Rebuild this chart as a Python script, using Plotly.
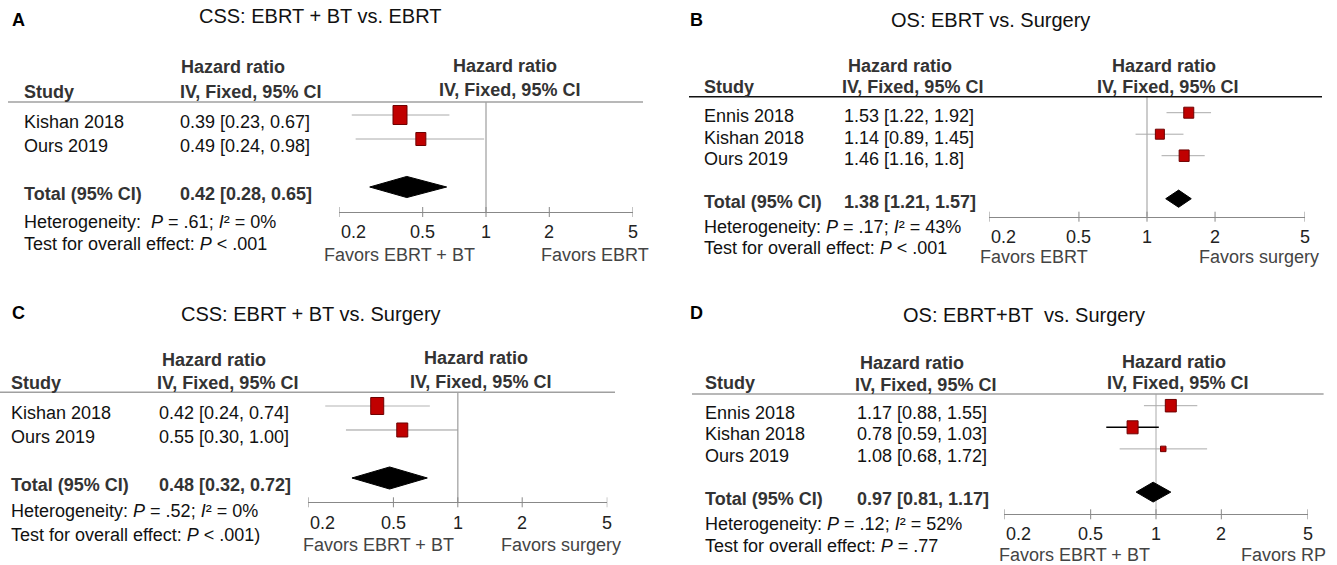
import math
import plotly.graph_objects as go

W, H = 1337, 565
FONT = "Liberation Sans, Arial, Helvetica, sans-serif"

# ---------------- data ----------------
tick_vals = [0.2, 0.5, 1, 2, 5]
tick_text = ["0.2", "0.5", "1", "2", "5"]

# Panel A: CSS: EBRT + BT vs. EBRT
a_studies = ["Kishan 2018", "Ours 2019"]
a_hr = [0.39, 0.49]
a_lo = [0.23, 0.24]
a_hi = [0.67, 0.98]
a_labels = ["0.39 [0.23, 0.67]", "0.49 [0.24, 0.98]"]
a_total = [0.42, 0.28, 0.65]
a_total_label = "0.42 [0.28, 0.65]"
a_het = "Heterogeneity:  <i>P</i> = .61; <i>I</i>² = 0%"
a_test = "Test for overall effect: <i>P</i> &lt; .001"
a_fav = ["Favors EBRT + BT", "Favors EBRT"]
a_title = "CSS: EBRT + BT vs. EBRT"

# Panel B: OS: EBRT vs. Surgery
b_studies = ["Ennis 2018", "Kishan 2018", "Ours 2019"]
b_hr = [1.53, 1.14, 1.46]
b_lo = [1.22, 0.89, 1.16]
b_hi = [1.92, 1.45, 1.80]
b_labels = ["1.53 [1.22, 1.92]", "1.14 [0.89, 1.45]", "1.46 [1.16, 1.8]"]
b_total = [1.38, 1.21, 1.57]
b_total_label = "1.38 [1.21, 1.57]"
b_het = "Heterogeneity: <i>P</i> = .17; <i>I</i>² = 43%"
b_test = "Test for overall effect: <i>P</i> &lt; .001"
b_fav = ["Favors EBRT", "Favors surgery"]
b_title = "OS: EBRT vs. Surgery"

# Panel C: CSS: EBRT + BT vs. Surgery
c_studies = ["Kishan 2018", "Ours 2019"]
c_hr = [0.42, 0.55]
c_lo = [0.24, 0.30]
c_hi = [0.74, 1.00]
c_labels = ["0.42 [0.24, 0.74]", "0.55 [0.30, 1.00]"]
c_total = [0.48, 0.32, 0.72]
c_total_label = "0.48 [0.32, 0.72]"
c_het = "Heterogeneity: <i>P</i> = .52; <i>I</i>² = 0%"
c_test = "Test for overall effect: <i>P</i> &lt; .001)"
c_fav = ["Favors EBRT + BT", "Favors surgery"]
c_title = "CSS: EBRT + BT vs. Surgery"

# Panel D: OS: EBRT+BT vs. Surgery
d_studies = ["Ennis 2018", "Kishan 2018", "Ours 2019"]
d_hr = [1.17, 0.78, 1.08]
d_lo = [0.88, 0.59, 0.68]
d_hi = [1.55, 1.03, 1.72]
d_labels = ["1.17 [0.88, 1.55]", "0.78 [0.59, 1.03]", "1.08 [0.68, 1.72]"]
d_total = [0.97, 0.81, 1.17]
d_total_label = "0.97 [0.81, 1.17]"
d_het = "Heterogeneity: <i>P</i> = .12; <i>I</i>² = 52%"
d_test = "Test for overall effect: <i>P</i> = .77"
d_fav = ["Favors EBRT + BT", "Favors RP"]
d_title = "OS: EBRT+BT  vs. Surgery"

# ---------------- layout / style per panel (pixels) ----------------
panels = [
    dict(letter="A", title=a_title, studies=a_studies, hr=a_hr, lo=a_lo, hi=a_hi, labels=a_labels,
         total=a_total, total_label=a_total_label, het=a_het, test=a_test, fav=a_fav,
         box_px=[(14, 19), (10, 13)], ci_colors=["#aaaaaa", "#aaaaaa"], ci_widths=[1, 1],
         letter_xy=(18, 20), title_xy=(320, 16),
         ax_x=(339, 633), header_y=102, axis_y=212, row0=115, step=24, dia_h=0.44,
         hline=(8, 643), hline_color="#a0a0a0", vline_color="#b0b0b0", vline_w=1.5,
         study_x=22, val_x=178, text_dy=7,
         hr_left=(233, 67.5), iv_left=(250, 92), study_hdr=(22, 92),
         hr_right=(505, 66), iv_right=(509.5, 90),
         het_y=222, test_y=244, fav_pos=[(399.5, 255), (595, 255)], tick_dy=20),
    dict(letter="B", title=b_title, studies=b_studies, hr=b_hr, lo=b_lo, hi=b_hi, labels=b_labels,
         total=b_total, total_label=b_total_label, het=b_het, test=b_test, fav=b_fav,
         box_px=[(10, 11), (9, 10), (10, 11.5)], ci_colors=["#aaaaaa"] * 3, ci_widths=[1, 1, 1],
         letter_xy=(697, 20), title_xy=(990, 20),
         ax_x=(989, 1305), header_y=96.7, axis_y=216.7, row0=112.7, step=21.5, dia_h=0.4,
         hline=(689, 1322), hline_color="#111111", vline_color="#999999", vline_w=1,
         study_x=702, val_x=842, text_dy=3.5,
         hr_left=(900, 66), iv_left=(912.6, 87), study_hdr=(702, 87),
         hr_right=(1163.5, 66), iv_right=(1167, 87),
         het_y=226.7, test_y=248, fav_pos=[(1034, 257), (1258.7, 257)], tick_dy=20),
    dict(letter="C", title=c_title, studies=c_studies, hr=c_hr, lo=c_lo, hi=c_hi, labels=c_labels,
         total=c_total, total_label=c_total_label, het=c_het, test=c_test, fav=c_fav,
         box_px=[(13, 17), (11, 14)], ci_colors=["#cccccc", "#999999"], ci_widths=[1.5, 1],
         letter_xy=(18, 313), title_xy=(311, 313.5),
         ax_x=(308.3, 607.3), header_y=392.3, axis_y=502.3, row0=406, step=24, dia_h=0.46,
         hline=(0, 615), hline_color="#a0a0a0", vline_color="#b0b0b0", vline_w=1.5,
         study_x=9, val_x=156.6, text_dy=6.5,
         hr_left=(214, 360), iv_left=(227.4, 383), study_hdr=(9, 383),
         hr_right=(476, 358.3), iv_right=(480.5, 381.7),
         het_y=511, test_y=535, fav_pos=[(378, 545), (561, 545)], tick_dy=21),
    dict(letter="D", title=d_title, studies=d_studies, hr=d_hr, lo=d_lo, hi=d_hi, labels=d_labels,
         total=d_total, total_label=d_total_label, het=d_het, test=d_test, fav=d_fav,
         box_px=[(11, 12.5), (11, 13), (5.5, 5.5)], ci_colors=["#aaaaaa", "#000000", "#aaaaaa"],
         ci_widths=[1, 1.5, 1],
         letter_xy=(697, 313), title_xy=(1024, 315),
         ax_x=(1004.3, 1307.7), header_y=394, axis_y=514.3, row0=405.7, step=21.6, dia_h=0.46,
         hline=(692, 1323.6), hline_color="#a0a0a0", vline_color="#aaaaaa", vline_w=1,
         study_x=703, val_x=855, text_dy=7,
         hr_left=(912, 362.5), iv_left=(925, 384.5), study_hdr=(703, 382.5),
         hr_right=(1174, 362), iv_right=(1177.5, 383),
         het_y=524, test_y=546, fav_pos=[(1074.5, 555), (1283, 555)], tick_dy=20),
]


def px(x):
    return x / W


def py(y):
    return 1 - y / H


fig = go.Figure()
annotations = []
shapes = []
layout_axes = {}

TXT = "#111111"
HDR = "#333333"
DECADES = math.log10(tick_vals[-1]) - math.log10(tick_vals[0])

for k, p in enumerate(panels):
    n = k + 1
    xa = "x" if n == 1 else f"x{n}"
    ya = "y" if n == 1 else f"y{n}"
    xkey = "xaxis" if n == 1 else f"xaxis{n}"
    ykey = "yaxis" if n == 1 else f"yaxis{n}"
    nstud = len(p["studies"])
    rows = list(range(nstud))
    trow = nstud + 1
    px_per_decade = (p["ax_x"][1] - p["ax_x"][0]) / DECADES

    y_bottom = (p["axis_y"] - p["row0"]) / p["step"]
    y_top = (p["header_y"] - p["row0"]) / p["step"]

    layout_axes[xkey] = dict(
        type="log", range=[math.log10(tick_vals[0]), math.log10(tick_vals[-1])],
        domain=[px(p["ax_x"][0]), px(p["ax_x"][1])], anchor=ya,
        showline=True, linecolor="#888888", linewidth=1, ticks="",
        tickvals=tick_vals, showticklabels=False, showgrid=False, zeroline=False,
        automargin=False, fixedrange=True,
    )
    layout_axes[ykey] = dict(
        range=[y_bottom, y_top], domain=[py(p["axis_y"]), py(p["header_y"])],
        anchor=xa, visible=False, fixedrange=True, automargin=False,
    )

    # CI lines
    for i in rows:
        fig.add_trace(go.Scatter(
            x=[p["lo"][i], p["hi"][i]], y=[i, i], mode="lines", xaxis=xa, yaxis=ya,
            line=dict(color=p["ci_colors"][i], width=p["ci_widths"][i]),
            showlegend=False, hoverinfo="skip"))
    # weight boxes centred on each hazard ratio (size given in pixels)
    for i in rows:
        bw, bh = p["box_px"][i]
        f = 10 ** ((bw / 2) / px_per_decade)
        dy = (bh / 2) / p["step"]
        x0, x1 = p["hr"][i] / f, p["hr"][i] * f
        fig.add_trace(go.Scatter(
            x=[x0, x1, x1, x0, x0], y=[i - dy, i - dy, i + dy, i + dy, i - dy],
            mode="lines", fill="toself", fillcolor="#c00000", xaxis=xa, yaxis=ya,
            line=dict(color="#6e0000", width=1), showlegend=False, hoverinfo="skip"))
    # diamond
    est, lo, hi = p["total"]
    h = p["dia_h"]
    fig.add_trace(go.Scatter(
        x=[lo, est, hi, est, lo], y=[trow, trow - h, trow, trow + h, trow],
        mode="lines", fill="toself", fillcolor="#000000", xaxis=xa, yaxis=ya,
        line=dict(color="#000000", width=1), showlegend=False, hoverinfo="skip"))

    # vertical no-effect line
    shapes.append(dict(type="line", xref=xa, yref=f"{ya} domain", x0=1, x1=1, y0=0, y1=1,
                       line=dict(color=p["vline_color"], width=p["vline_w"]), layer="below"))
    # tick marks crossing axis line + tick labels (placed through the log axis)
    for j, v in enumerate(tick_vals):
        shapes.append(dict(type="line", xref=xa, yref="paper", x0=v, x1=v,
                           y0=py(p["axis_y"] + 5), y1=py(p["axis_y"] - 5),
                           line=dict(color="#888888", width=1)))
        annotations.append(dict(
            text=tick_text[j], x=math.log10(v), xref=xa, y=py(p["axis_y"] + p["tick_dy"]), yref="paper",
            xanchor="left" if j == 0 else "center", yanchor="middle", showarrow=False,
            font=dict(family=FONT, size=18, color="#222222")))
    # header rule
    shapes.append(dict(type="line", xref="paper", yref="paper",
                       x0=px(p["hline"][0]), x1=px(p["hline"][1]),
                       y0=py(p["header_y"]), y1=py(p["header_y"]),
                       line=dict(color=p["hline_color"], width=1.5)))

    def ann(text, x, y, xanchor="left", size=18, color=TXT, bold=False, yref="paper", yshift=0):
        if bold:
            text = f"<b>{text}</b>"
        annotations.append(dict(
            text=text, x=px(x), y=y if yref != "paper" else py(y), xref="paper", yref=yref,
            xanchor=xanchor, yanchor="middle", showarrow=False, yshift=yshift,
            font=dict(family=FONT, size=size, color=color)))

    ann(p["letter"], p["letter_xy"][0], p["letter_xy"][1], xanchor="center", size=18, color="#000000", bold=True)
    ann(p["title"], p["title_xy"][0], p["title_xy"][1], xanchor="center", size=20, color=TXT)
    ann("Hazard ratio", p["hr_left"][0], p["hr_left"][1], xanchor="center", color=HDR, bold=True)
    ann("IV, Fixed, 95% CI", p["iv_left"][0], p["iv_left"][1], xanchor="center", color=HDR, bold=True)
    ann("Study", p["study_hdr"][0], p["study_hdr"][1], color=HDR, bold=True)
    ann("Hazard ratio", p["hr_right"][0], p["hr_right"][1], xanchor="center", color=HDR, bold=True)
    ann("IV, Fixed, 95% CI", p["iv_right"][0], p["iv_right"][1], xanchor="center", color=HDR, bold=True)

    for i in rows:
        ann(p["studies"][i], p["study_x"], i, yref=ya, yshift=-p["text_dy"])
        ann(p["labels"][i], p["val_x"], i, yref=ya, yshift=-p["text_dy"])
    ann("Total (95% CI)", p["study_x"], trow, yref=ya, yshift=-p["text_dy"], color=HDR, bold=True)
    ann(p["total_label"], p["val_x"], trow, yref=ya, yshift=-p["text_dy"], color=HDR, bold=True)
    ann(p["het"], p["study_x"], p["het_y"])
    ann(p["test"], p["study_x"], p["test_y"])
    for (fx, fy), ftxt in zip(p["fav_pos"], p["fav"]):
        ann(ftxt, fx, fy, xanchor="center", color="#444444")

fig.update_layout(
    width=W, height=H, margin=dict(l=0, r=0, t=0, b=0, pad=0, autoexpand=False),
    paper_bgcolor="white", plot_bgcolor="rgba(0,0,0,0)",
    showlegend=False, annotations=annotations, shapes=shapes,
    **layout_axes,
)

fig.write_html(
    "out.html",
    config={"displayModeBar": False},
    post_script="document.body.style.margin='0px';document.body.style.overflow='hidden';",
)
